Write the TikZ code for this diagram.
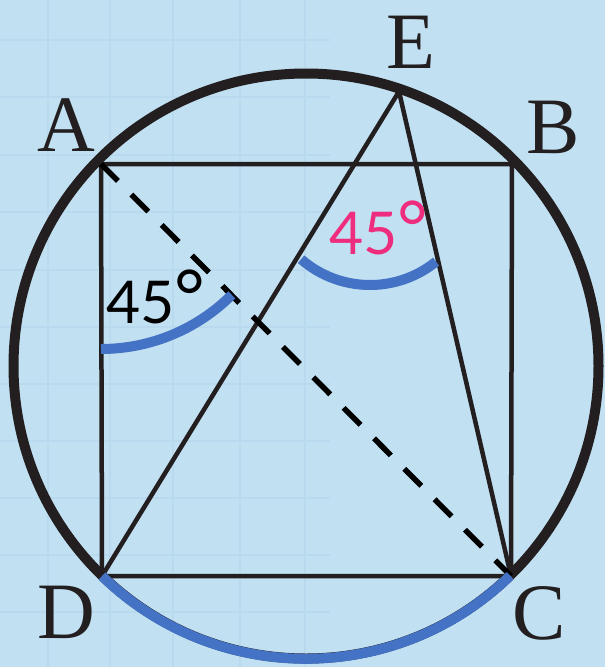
\documentclass[tikz,border=0pt]{standalone}
\usepackage{fontspec}
\setmainfont{Liberation Serif}
\newfontfamily\numfont{Lato}
\definecolor{bgblue}{HTML}{C1E0F2}
\definecolor{gridblue}{HTML}{B9DAEE}
\definecolor{inkblack}{HTML}{231F20}
\definecolor{arcblue}{HTML}{4472C4}
\definecolor{anglepink}{HTML}{EE2D7E}
\tikzset{
  edge/.style={draw=inkblack, line width=4.5pt},
  ring/.style={draw=inkblack, line width=10pt},
  diag/.style={draw=black, line width=5.5pt, dash pattern=on 24pt off 19pt},
  bluearc/.style={draw=arcblue, line width=10pt},
  lbl/.style={inner sep=0pt, anchor=base, text=inkblack, font=\fontsize{80}{90}\selectfont},
  deg/.style={inner sep=0pt, anchor=base, font=\numfont\fontsize{59}{70}\selectfont},
  gridline/.style={draw=gridblue, line width=1.3pt}
}
\newcommand{\bigdeg}{{\fontsize{74}{80}\selectfont°}}
\begin{document}
\begin{tikzpicture}[x=1pt, y=-1pt]
\fill[bgblue] (0,0) rectangle (605,667);
\useasboundingbox (0,0) rectangle (605,667);
% faint background grid
\foreach \gx in {48,110,173,240,305} {\draw[gridline] (\gx,0) -- (\gx,667);}
\foreach \gy in {40,97,155,212,270,327,384,441,498,555,612} {\draw[gridline] (0,\gy) -- (330,\gy);}
% points
\coordinate (O) at (306,366);
\coordinate (A) at (101,164);
\coordinate (B) at (512,164);
\coordinate (C) at (511,576);
\coordinate (D) at (102,576);
\coordinate (E) at (399,91.5);
% square
\draw[edge] (A) -- (B) -- (C) -- (D) -- cycle;
% circle
\draw[ring] (O) circle[radius=292.5];
% lines from E
\draw[edge] (E) -- (D);
\draw[edge] (E) -- (C);
% dashed diagonal
\draw[diag] (A) -- (C);
% blue arcs
\draw[bluearc] (D) arc[start angle=134.2, end angle=45.7, radius=292.5];
\draw[bluearc] (A) ++(90:185) arc[start angle=90, end angle=45, radius=185];
\coordinate (Ec) at (370,180);
\draw[bluearc] (Ec) ++(131:105) arc[start angle=131, end angle=51, radius=105];
% labels
\node[lbl] (lA) at (66,151) {A};
\node[lbl] (lB) at (553,153) {B};
\node[lbl] (lE) at (411,68) {E};
\node[lbl] (lD) at (66,638) {D};
\node[lbl] (lC) at (539,639) {C};
\node[deg, text=black] (a1) at (156,323) {45\bigdeg};
\node[deg, text=anglepink] (a2) at (379,254) {45\bigdeg};
\end{tikzpicture}
\end{document}
